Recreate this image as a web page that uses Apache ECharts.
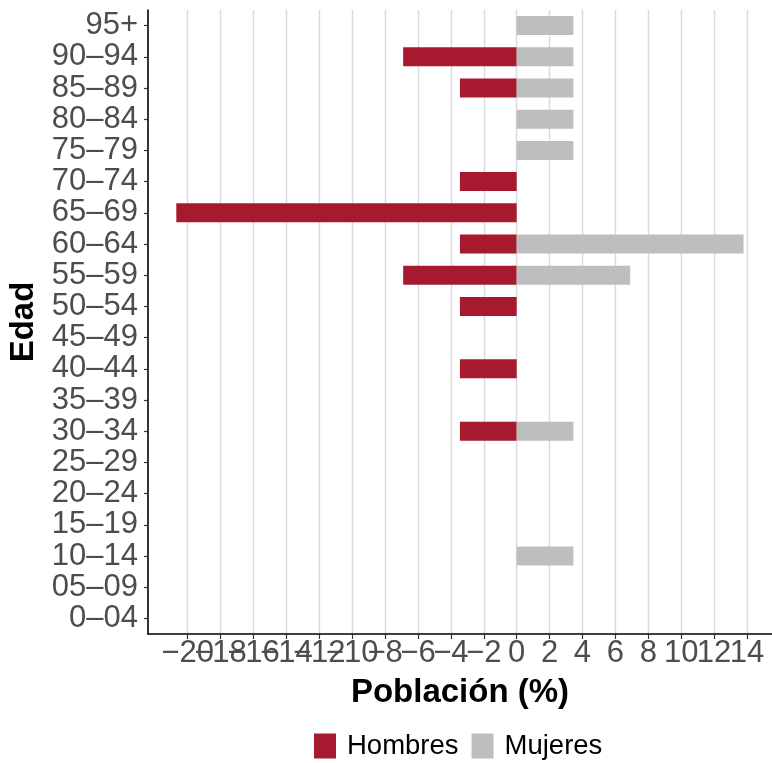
<!DOCTYPE html>
<html>
<head>
<meta charset="utf-8">
<script src="https://cdn.jsdelivr.net/npm/echarts@6/dist/echarts.min.js"></script>
<style>
html,body{margin:0;padding:0;background:#fff;}
#chart{width:772px;height:763px;}
</style>
</head>
<body>
<div id="chart"></div>
<script>
const ageGroups = ['0–04','05–09','10–14','15–19','20–24','25–29','30–34','35–39','40–44','45–49','50–54','55–59','60–64','65–69','70–74','75–79','80–84','85–89','90–94','95+'];
const hombres = [0,0,0,0,0,0,-3.45,0,-3.45,0,-3.45,-6.9,-3.45,-20.69,-3.45,0,0,-3.45,-6.9,0];
const mujeres = [0,0,3.45,0,0,0,3.45,0,0,0,0,6.9,13.79,0,0,3.45,3.45,3.45,3.45,3.45];
const xTicks = [-20,-18,-16,-14,-12,-10,-8,-6,-4,-2,0,2,4,6,8,10,12,14];
const xMin = -22.41, xMax = 15.52;

// split tick labels into two interleaved sets so none of them get auto-hidden
const xTicksA = xTicks.filter(function(v,i){return i%2===0;});
const xTicksB = xTicks.filter(function(v,i){return i%2===1;});

const FONT = 'Liberation Sans, Arial, Helvetica, sans-serif';
function fmt(v){return v<0 ? '\u2212'+Math.abs(v) : String(v);}
function labelCfg(vals){
  return {show:true, fontSize:31, color:'#4d4d4d', margin:4, fontFamily:FONT,
    customValues:vals, hideOverlap:false, showMinLabel:true, showMaxLabel:true,
    formatter:fmt};
}
const gridLineStyle = {color:'#d9d9d9', width:1.4};
const chart = echarts.init(document.getElementById('chart'), null, {renderer:'canvas'});
chart.setOption({
  backgroundColor:'#ffffff',
  animation:false,
  textStyle:{fontFamily:FONT},
  grid:{left:148, right:0, top:10, bottom:129, containLabel:false, outerBoundsMode:'none'},
  legend:{
    data:['Hombres','Mujeres'],
    left:309, top:727,
    itemWidth:22, itemHeight:25, itemGap:13,
    icon:'rect',
    textStyle:{fontSize:27.5, color:'#000', fontFamily:FONT, padding:[0,0,0,6]}
  },
  xAxis:[{
    type:'value', min:xMin, max:xMax, position:'bottom', offset:0,
    name:'Población (%)', nameLocation:'middle', nameGap:42,
    nameTextStyle:{fontSize:33, fontWeight:'bold', color:'#000', fontFamily:FONT},
    axisLine:{show:true, onZero:false, lineStyle:{color:'#000', width:1.6}},
    axisTick:{show:true, length:5, lineStyle:{color:'#333', width:1.2}, customValues:xTicksA},
    axisLabel:labelCfg(xTicksA),
    splitLine:{show:true, lineStyle:gridLineStyle}
  },{
    type:'value', min:xMin, max:xMax, position:'bottom', offset:0,
    axisLine:{show:false, onZero:false},
    axisTick:{show:true, length:5, lineStyle:{color:'#333', width:1.2}, customValues:xTicksB},
    axisLabel:labelCfg(xTicksB),
    splitLine:{show:true, lineStyle:gridLineStyle}
  }],
  yAxis:{
    type:'category', data:ageGroups,
    name:'Edad', nameLocation:'middle', nameGap:104, nameRotate:90,
    nameTextStyle:{fontSize:33, fontWeight:'bold', color:'#000', fontFamily:FONT},
    axisLine:{show:true, onZero:false, lineStyle:{color:'#000', width:1.6}},
    axisTick:{show:true, length:4, alignWithLabel:true, lineStyle:{color:'#333', width:1.2}},
    axisLabel:{show:true, interval:0, fontSize:31, color:'#4d4d4d', margin:10, fontFamily:FONT},
    splitLine:{show:false}
  },
  series:[
    {name:'Hombres', type:'bar', stack:'pop', data:hombres, barWidth:19, xAxisIndex:0,
      itemStyle:{color:'#a6192e'}},
    {name:'Mujeres', type:'bar', stack:'pop', data:mujeres, barWidth:19, xAxisIndex:0,
      itemStyle:{color:'#bebebe'}}
  ]
});
</script>
</body>
</html>
